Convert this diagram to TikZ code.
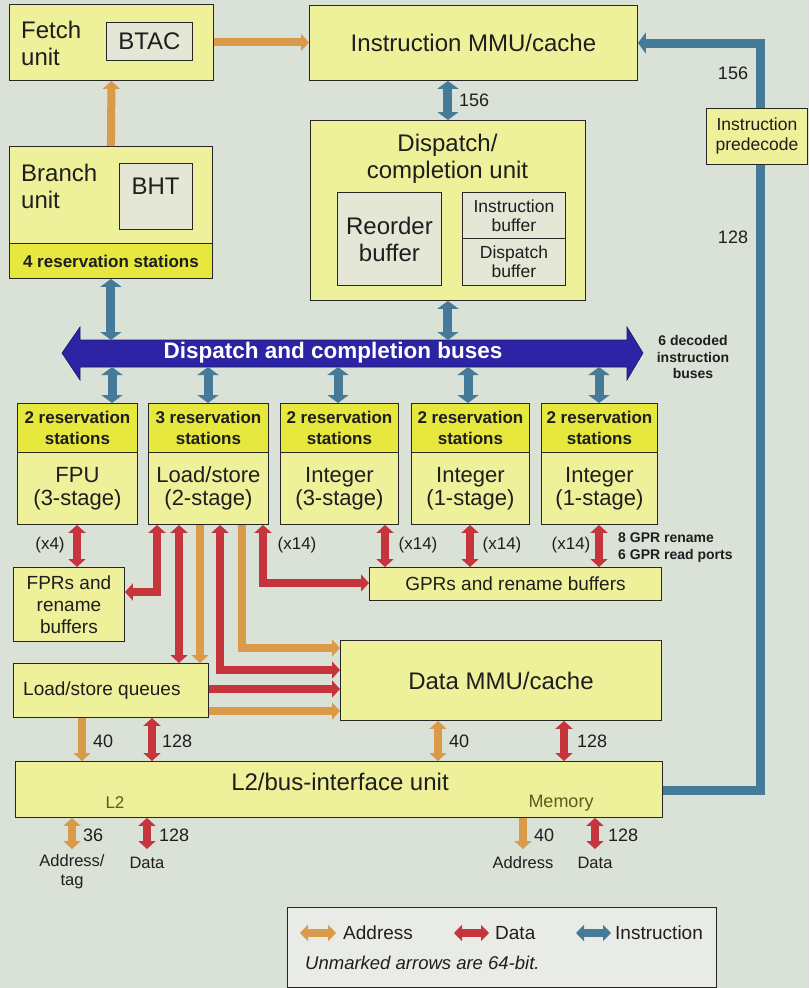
\documentclass[tikz,border=0pt]{standalone}
\usepackage{fontspec}
\setmainfont{Liberation Sans}
\usetikzlibrary{arrows.meta}
\definecolor{bg}{HTML}{DAE2D8}
\definecolor{boxy}{HTML}{EEF09A}
\definecolor{heady}{HTML}{E6E83E}
\definecolor{innerc}{HTML}{E4E6D6}
\definecolor{legc}{HTML}{E9ECE6}
\definecolor{addrc}{HTML}{D99A4A}
\definecolor{datac}{HTML}{C7353C}
\definecolor{instc}{HTML}{457B98}
\definecolor{busc}{HTML}{2C24A4}
\definecolor{ink}{HTML}{1E1E1E}
\definecolor{olivec}{HTML}{5C5C1C}
\newcommand{\myfs}[2]{\fontsize{#1}{#2}\selectfont}
\tikzset{
  dtip/.tip={Triangle[length=8pt,width=17pt]},
  itip/.tip={Triangle[length=8pt,width=21pt]},
  ltip/.tip={Triangle[length=8pt,width=16pt]},
}
\begin{document}
\begin{tikzpicture}[x=1pt,y=-1pt,
  box/.style={draw=black!85, line width=0.9pt, fill=boxy, inner sep=0pt, anchor=north west, text=ink},
  hbox/.style={box, fill=heady},
  ibox/.style={box, fill=innerc},
  lbl/.style={text=ink, inner sep=0pt},
  big/.style={lbl, font=\myfs{24}{27}},
  unitf/.style={lbl, font=\myfs{22}{23}, align=center},
  rsf/.style={lbl, font=\bfseries\myfs{17}{21}, align=center},
  med/.style={lbl, font=\myfs{19}{22}, align=center},
  num/.style={lbl, font=\myfs{18}{20}, anchor=west},
  sml/.style={lbl, font=\myfs{17}{19}, align=center},
  adr/.style={lbl, font=\myfs{16.5}{19}, align=center},
  addr/.style={draw=addrc, line width=8pt},
  data/.style={draw=datac, line width=8pt},
  inst/.style={draw=instc, line width=9pt},
]
\fill[bg] (0,0) rectangle (809,988);
\useasboundingbox (0,0) rectangle (809,988);

% ---------- top blocks
\node[box, minimum width=204pt, minimum height=76pt] (fetch) at (9,4) {};
\node[ibox, minimum width=86pt, minimum height=38pt, font=\myfs{24}{27}] (btac) at (106,22) {BTAC};
\node[big, anchor=west, align=left] at (21,43) {Fetch\\unit};

\node[box, minimum width=328pt, minimum height=75pt, font=\myfs{24}{27}] (immu) at (309,5) {Instruction MMU/cache};

\node[box, minimum width=203pt, minimum height=98pt] (branch) at (9,146) {};
\node[hbox, minimum width=203pt, minimum height=35pt, font=\bfseries\myfs{17}{21}] (brs) at (9,243) {4 reservation stations};
\node[ibox, minimum width=73pt, minimum height=66pt] (bht) at (119,163) {};
\node[big] at (155.5,186) {BHT};
\node[big, anchor=west, align=left] at (21,186) {Branch\\unit};

\node[box, minimum width=275pt, minimum height=180pt] (disp) at (310,120) {};
\node[big, align=center] at (447.5,159) {Dispatch/\\completion unit};
\node[ibox, minimum width=104pt, minimum height=93pt, font=\myfs{24}{27}, align=center] (rob) at (337,192) {Reorder\\buffer};
\node[ibox, minimum width=103pt, minimum height=46pt, font=\myfs{17.5}{19}, align=center] (ibuf) at (462,192) {Instruction\\buffer};
\node[ibox, minimum width=103pt, minimum height=47pt, font=\myfs{17.5}{19}, align=center] (dbuf) at (462,238) {Dispatch\\buffer};

% ---------- instruction loop
\coordinate (lb) at (760,790);
\coordinate (lt) at (760,43);

% ---------- lower blocks
\node[box, minimum width=111pt, minimum height=74pt, med] (fprs) at (13,567) {FPRs and\\rename\\buffers};
\node[box, minimum width=292pt, minimum height=33pt, med] (gprs) at (369,567) {GPRs and rename buffers};
\node[box, minimum width=195pt, minimum height=54pt] (lsq) at (13,663) {};
\node[med, anchor=west] at (23,691) {Load/store queues};
\node[box, minimum width=321pt, minimum height=80pt, font=\myfs{24}{27}] (dmmu) at (340,640) {Data MMU/cache};
\node[box, minimum width=647pt, minimum height=56pt] (l2) at (15,761) {};
\node[big] at (340,782) {L2/bus-interface unit};
\node[lbl, text=olivec, font=\myfs{17}{19}] at (115,803) {L2};
\node[lbl, text=olivec, font=\myfs{18}{20}] at (561,803) {Memory};

\draw[inst, -itip] (l2.east |- lb) -- (lb) -- (lt) -- (immu.east |- lt);
\node[box, minimum width=101pt, minimum height=56pt, font=\myfs{17.5}{20}, align=center] (pred) at (706,108) {Instruction\\predecode};
\node[num, anchor=center] at (733,73) {156};
\node[num, anchor=center] at (733,237) {128};

% ---------- bus
\coordinate (busT) at (0,340);
\coordinate (busB) at (0,367);
\fill[busc, draw=busc!60!black, line width=0.6pt] (62,353) -- (80,327) -- (80,340) -- (627,340) -- (627,327) -- (643,353) -- (627,380) -- (627,367) -- (80,367) -- (80,380) -- cycle;
\node[lbl, text=white, font=\bfseries\myfs{22.5}{24}] (bus) at (333,353) {Dispatch and completion buses};
\node[lbl, align=center, font=\bfseries\myfs{14}{16.5}] at (693,357) {6 decoded\\instruction\\buses};

% ---------- execution units
\node[hbox, minimum width=120pt, minimum height=49pt, rsf] (fpuh) at (17,403) {2 reservation\\stations};
\node[box, minimum width=120pt, minimum height=72pt, unitf] (fpu) at (17,452) {FPU\\(3-stage)};
\node[hbox, minimum width=120pt, minimum height=49pt, rsf] (lsh) at (148,403) {3 reservation\\stations};
\node[box, minimum width=120pt, minimum height=72pt, unitf] (ls) at (148,452) {Load/store\\(2-stage)};
\node[hbox, minimum width=118pt, minimum height=49pt, rsf] (i3h) at (280,403) {2 reservation\\stations};
\node[box, minimum width=118pt, minimum height=72pt, unitf] (i3) at (280,452) {Integer\\(3-stage)};
\node[hbox, minimum width=118pt, minimum height=49pt, rsf] (i1h) at (411,403) {2 reservation\\stations};
\node[box, minimum width=118pt, minimum height=72pt, unitf] (i1) at (411,452) {Integer\\(1-stage)};
\node[hbox, minimum width=116pt, minimum height=49pt, rsf] (i1bh) at (541,403) {2 reservation\\stations};
\node[box, minimum width=116pt, minimum height=72pt, unitf] (i1b) at (541,452) {Integer\\(1-stage)};

% ---------- instruction arrows
\draw[addr, -dtip] (fetch.east) -- (fetch.east -| immu.west);
\draw[addr, -dtip] (branch.north) -- (fetch.south);
\draw[inst, itip-itip] (disp.north |- immu.south) -- (disp.north);
\node[num] at (459,100) {156};
\draw[inst, itip-itip] (brs.south) -- (brs.south |- busT);
\draw[inst, itip-itip] (disp.south) -- (disp.south |- busT);
\draw[inst, itip-itip] (busB -| 112,0) -- (fpuh.north -| 112,0);
\draw[inst, itip-itip] (busB -| 208,0) -- (lsh.north -| 208,0);
\draw[inst, itip-itip] (busB -| 338,0) -- (i3h.north -| 338,0);
\draw[inst, itip-itip] (busB -| 468,0) -- (i1h.north -| 468,0);
\draw[inst, itip-itip] (busB -| 599,0) -- (i1bh.north -| 599,0);

% ---------- register / data arrows
\draw[data, dtip-dtip] (fpu.south -| 77,0) -- (fprs.north -| 77,0);
\node[sml] at (50,545) {(x4)};
\draw[data, dtip-dtip] (ls.south -| 157,0) -- (157,592) -- (fprs.east |- 0,592);
\draw[data, dtip-dtip] (ls.south -| 179,0) -- (lsq.north -| 179,0);
\draw[addr, -dtip] (ls.south -| 200,0) -- (lsq.north -| 200,0);
\draw[data, dtip-dtip] (ls.south -| 220,0) -- (220,670) -- (dmmu.west |- 0,670);
\draw[addr, -dtip] (ls.south -| 242,0) -- (242,648) -- (dmmu.west |- 0,648);
\draw[data, dtip-dtip] (ls.south -| 263,0) -- (263,583) -- (gprs.west |- 0,583);
\draw[data, -dtip] (lsq.east |- 0,689) -- (dmmu.west |- 0,689);
\draw[addr, -dtip] (lsq.east |- 0,711) -- (dmmu.west |- 0,711);
\node[sml] at (297,545) {(x14)};
\draw[data, dtip-dtip] (i3.south -| 385,0) -- (gprs.north -| 385,0);
\node[sml] at (418,545) {(x14)};
\draw[data, dtip-dtip] (i1.south -| 470,0) -- (gprs.north -| 470,0);
\node[sml] at (502,545) {(x14)};
\draw[data, dtip-dtip] (i1b.south -| 599,0) -- (gprs.north -| 599,0);
\node[sml] at (571,545) {(x14)};
\node[lbl, anchor=west, align=left, font=\bfseries\myfs{14}{17}] at (618,548) {8 GPR rename\\6 GPR read ports};

% ---------- to L2
\draw[addr, -dtip] (lsq.south -| 82,0) -- (l2.north -| 82,0);
\node[num] at (93,741) {40};
\draw[data, dtip-dtip] (lsq.south -| 152,0) -- (l2.north -| 152,0);
\node[num] at (162,741) {128};
\draw[addr, dtip-dtip] (dmmu.south -| 438,0) -- (l2.north -| 438,0);
\node[num] at (449,741) {40};
\draw[data, dtip-dtip] (dmmu.south -| 564,0) -- (l2.north -| 564,0);
\node[num] at (577,741) {128};

% ---------- external buses
\coordinate (e1) at (72,849);
\coordinate (e2) at (147,849);
\coordinate (e3) at (523,849);
\coordinate (e4) at (595,849);
\draw[addr, dtip-dtip] (l2.south -| e1) -- (e1);
\node[num] at (83,835) {36};
\draw[data, dtip-dtip] (l2.south -| e2) -- (e2);
\node[num] at (159,835) {128};
\draw[addr, -dtip] (l2.south -| e3) -- (e3);
\node[num] at (534,835) {40};
\draw[data, dtip-dtip] (l2.south -| e4) -- (e4);
\node[num] at (608,835) {128};
\node[adr] at (72,872) {Address/\\tag};
\node[adr] at (147,863) {Data};
\node[adr] at (523,863) {Address};
\node[adr] at (595,863) {Data};

% ---------- legend
\node[box, fill=legc, minimum width=429pt, minimum height=80pt] (legend) at (287,907) {};
\coordinate (la1) at (300,933); \coordinate (la2) at (336,933);
\coordinate (ld1) at (454,933); \coordinate (ld2) at (489,933);
\coordinate (li1) at (576,933); \coordinate (li2) at (611,933);
\draw[addr, ltip-ltip] (la1) -- (la2);
\draw[data, ltip-ltip] (ld1) -- (ld2);
\draw[draw=instc, line width=8pt, ltip-ltip] (li1) -- (li2);
\node[lbl, anchor=west, font=\myfs{19}{21}] at (343,933) {Address};
\node[lbl, anchor=west, font=\myfs{19}{21}] at (495,933) {Data};
\node[lbl, anchor=west, font=\myfs{19}{21}] at (615,933) {Instruction};
\node[lbl, anchor=west, font=\itshape\myfs{18.5}{21}] at (305,963) {Unmarked arrows are 64-bit.};
\end{tikzpicture}
\end{document}
